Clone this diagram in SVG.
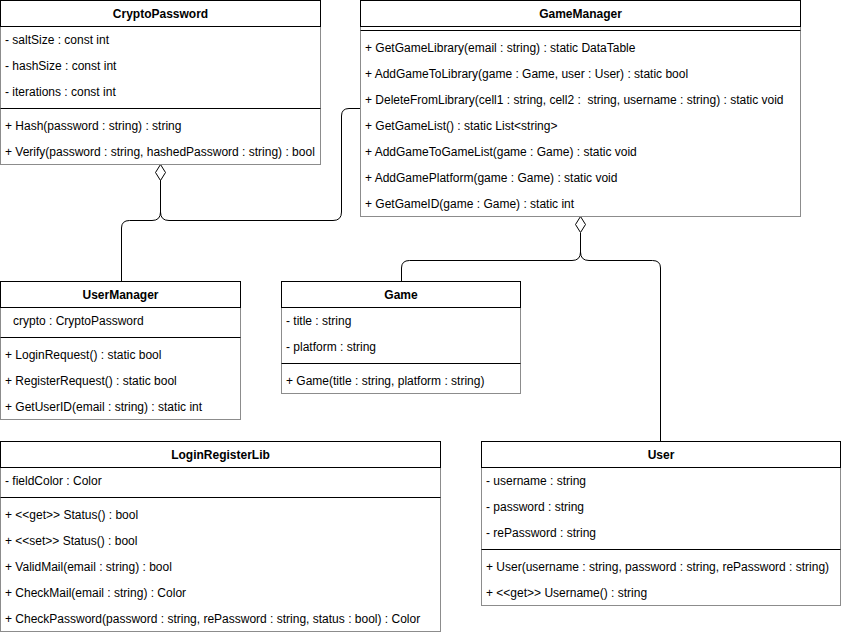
<svg xmlns="http://www.w3.org/2000/svg" width="841" height="634" viewBox="0 0 841 634">
<style>
text{font-family:"Liberation Sans",Arial,sans-serif;font-size:12px;fill:#000}
.t{font-weight:bold;text-anchor:middle}
.hd{fill:#fff;stroke:#000;stroke-width:1}
.bd{fill:#fff;stroke:#8c8c8c;stroke-width:1}
.dv{stroke:#000;stroke-width:1}
.e{fill:none;stroke:#000;stroke-width:1}
.dm{fill:#fff;stroke:#000;stroke-width:1}
</style>
<rect width="841" height="634" fill="#fff"/>
<g id="connectors">
<path class="e" d="M121.5,281 L121.5,228 Q121.5,220.5 129.5,220.5 L152,220.5 Q160.5,220.5 160.5,212 L160.5,180"/>
<path class="e" d="M360,108.5 L349,108.5 Q341.5,108.5 341.5,116 L341.5,212 Q341.5,220.5 333,220.5 L169,220.5 Q160.5,220.5 160.5,212"/>
<polygon class="dm" points="160.5,164.5 165.5,172.5 160.5,180.5 155.5,172.5"/>
<path class="e" d="M401.5,281 L401.5,268 Q401.5,260.5 409.5,260.5 L572,260.5 Q580.5,260.5 580.5,252 L580.5,233"/>
<path class="e" d="M660.5,441 L660.5,268 Q660.5,260.5 652.5,260.5 L589,260.5 Q580.5,260.5 580.5,252"/>
<polygon class="dm" points="580.5,216.5 585.5,224.5 580.5,232.5 575.5,224.5"/>
</g>
<g id="CryptoPassword">
<rect class="bd" x="0.5" y="26.5" width="320" height="138"/>
<rect class="hd" x="0.5" y="0.5" width="320" height="26"/>
<text class="t" x="160.5" y="18">CryptoPassword</text>
<text x="5" y="44">- saltSize : const int</text>
<text x="5" y="70">- hashSize : const int</text>
<text x="5" y="96">- iterations : const int</text>
<line class="dv" x1="0.5" y1="108.5" x2="320.5" y2="108.5"/>
<text x="5" y="130">+ Hash(password : string) : string</text>
<text x="5" y="156">+ Verify(password : string, hashedPassword : string) : bool</text>
</g>
<g id="GameManager">
<rect class="bd" x="360.5" y="26.5" width="440" height="190"/>
<rect class="hd" x="360.5" y="0.5" width="440" height="26"/>
<text class="t" x="580.5" y="18">GameManager</text>
<line class="dv" x1="360.5" y1="30.5" x2="800.5" y2="30.5"/>
<text x="365" y="52">+ GetGameLibrary(email : string) : static DataTable</text>
<text x="365" y="78">+ AddGameToLibrary(game : Game, user : User) : static bool</text>
<text x="365" y="104" xml:space="preserve">+ DeleteFromLibrary(cell1 : string, cell2 :  string, username : string) : static void</text>
<text x="365" y="130">+ GetGameList() : static List&lt;string&gt;</text>
<text x="365" y="156">+ AddGameToGameList(game : Game) : static void</text>
<text x="365" y="182">+ AddGamePlatform(game : Game) : static void</text>
<text x="365" y="208">+ GetGameID(game : Game) : static int</text>
</g>
<g id="UserManager">
<rect class="bd" x="0.5" y="307.5" width="240" height="112"/>
<rect class="hd" x="0.5" y="281.5" width="240" height="26"/>
<text class="t" x="120.5" y="299">UserManager</text>
<text x="13" y="325">crypto : CryptoPassword</text>
<line class="dv" x1="0.5" y1="337.5" x2="240.5" y2="337.5"/>
<text x="5" y="359">+ LoginRequest() : static bool</text>
<text x="5" y="385">+ RegisterRequest() : static bool</text>
<text x="5" y="411">+ GetUserID(email : string) : static int</text>
</g>
<g id="Game">
<rect class="bd" x="281.5" y="307.5" width="239" height="86"/>
<rect class="hd" x="281.5" y="281.5" width="239" height="26"/>
<text class="t" x="401" y="299">Game</text>
<text x="286" y="325">- title : string</text>
<text x="286" y="351">- platform : string</text>
<line class="dv" x1="281.5" y1="363.5" x2="520.5" y2="363.5"/>
<text x="286" y="385">+ Game(title : string, platform : string)</text>
</g>
<g id="LoginRegisterLib">
<rect class="bd" x="0.5" y="467.5" width="440" height="164"/>
<rect class="hd" x="0.5" y="441.5" width="440" height="26"/>
<text class="t" x="220.5" y="459">LoginRegisterLib</text>
<text x="5" y="485">- fieldColor : Color</text>
<line class="dv" x1="0.5" y1="497.5" x2="440.5" y2="497.5"/>
<text x="5" y="519">+ &lt;&lt;get&gt;&gt; Status() : bool</text>
<text x="5" y="545">+ &lt;&lt;set&gt;&gt; Status() : bool</text>
<text x="5" y="571">+ ValidMail(email : string) : bool</text>
<text x="5" y="597">+ CheckMail(email : string) : Color</text>
<text x="5" y="623">+ CheckPassword(password : string, rePassword : string, status : bool) : Color</text>
</g>
<g id="User">
<rect class="bd" x="481.5" y="467.5" width="359" height="138"/>
<rect class="hd" x="481.5" y="441.5" width="359" height="26"/>
<text class="t" x="661" y="459">User</text>
<text x="486" y="485">- username : string</text>
<text x="486" y="511">- password : string</text>
<text x="486" y="537">- rePassword : string</text>
<line class="dv" x1="481.5" y1="549.5" x2="840.5" y2="549.5"/>
<text x="486" y="571">+ User(username : string, password : string, rePassword : string)</text>
<text x="486" y="597">+ &lt;&lt;get&gt;&gt; Username() : string</text>
</g>
</svg>
